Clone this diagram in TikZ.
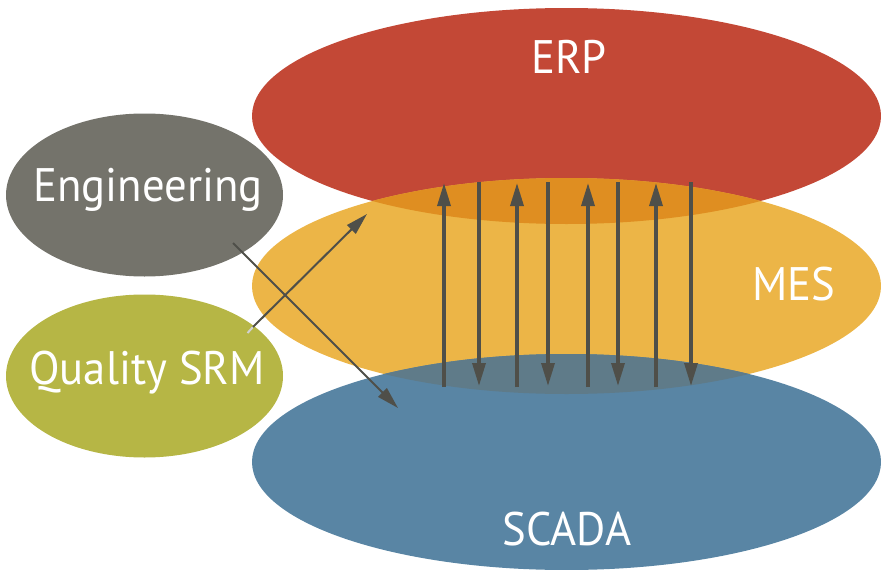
\documentclass[tikz,border=0pt]{standalone}
\usepackage{fontspec}
\setmainfont[FakeStretch=0.95]{PT Sans}
\usetikzlibrary{shapes.geometric,arrows.meta}

\definecolor{erpred}{HTML}{C34836}
\definecolor{mesyellow}{HTML}{ECB547}
\definecolor{scadablue}{HTML}{5985A4}
\definecolor{erpmes}{HTML}{DF8E21}
\definecolor{messcada}{HTML}{5F7B89}
\definecolor{enggrey}{HTML}{74736B}
\definecolor{qualgreen}{HTML}{B6B645}
\definecolor{arrowgrey}{HTML}{4F4F49}

\tikzset{
  layer/.style={ellipse, inner sep=0pt, minimum width=629pt, minimum height=216pt},
  side/.style={ellipse, inner sep=0pt, minimum width=277pt, minimum height=163pt},
  caption/.style={text=white, font=\fontsize{47}{47}\selectfont, inner sep=0pt},
  flow/.style={draw=arrowgrey, line width=3.4pt, -{Triangle[length=23pt,width=13pt]}},
  link/.style={draw=arrowgrey, line width=2pt, -{Triangle[length=22pt,width=12pt]}},
}

\begin{document}
\begin{tikzpicture}[x=1pt,y=-1pt]
\useasboundingbox (0,0) rectangle (881,570);

% the three system layers
\node[layer, fill=erpred]    (erp)   at (566.5,116) {};
\node[layer, fill=mesyellow] (mes)   at (566.5,286) {};
\node[layer, fill=scadablue] (scada) at (566.5,462) {};

% overlapping bands between the layers
\begin{scope}
  \clip (erp.center) ellipse [x radius=314.5, y radius=108];
  \fill[erpmes] (mes.center) ellipse [x radius=314.5, y radius=108];
\end{scope}
\begin{scope}
  \clip (mes.center) ellipse [x radius=314.5, y radius=108];
  \fill[messcada] (scada.center) ellipse [x radius=314.5, y radius=108];
\end{scope}

% side systems
\node[side, fill=enggrey]   (eng)  at (144.5,195) {};
\node[side, fill=qualgreen] (qual) at (144.5,376) {};

% labels
\node[caption] (erplabel)   at (569,57)  {ERP};
\node[caption] (meslabel)   at (794,284) {MES};
\node[caption] (scadalabel) at (567,529) {SCADA};
\node[caption] (englabel)   at (148,190) {Engineering};
\node[caption] (quallabel)  at (147,373) {Quality SRM};

% end points of the vertical exchanges
\foreach \i/\x in {1/444,2/517,3/588,4/656} {
  \coordinate (up\i s) at (\x,387);
  \coordinate (up\i e) at (\x,183);
}
\foreach \i/\x in {1/479,2/548,3/618,4/691} {
  \coordinate (dn\i s) at (\x,182);
  \coordinate (dn\i e) at (\x,386);
}
\foreach \i in {1,...,4} {
  \draw[flow] (up\i s) -- (up\i e);
  \draw[flow] (dn\i s) -- (dn\i e);
}

% links from the side systems
\coordinate (engout)  at (233,243);
\coordinate (scadain) at (398,408);
\coordinate (qualstub) at (247.5,333);
\coordinate (qualout) at (253,327);
\coordinate (mesin)   at (367,214);
\draw[link] (engout) -- (scadain);
\draw[draw=black!18, line width=2pt] (qualstub) -- (qualout);
\draw[link] (qualout) -- (mesin);
\end{tikzpicture}
\end{document}
